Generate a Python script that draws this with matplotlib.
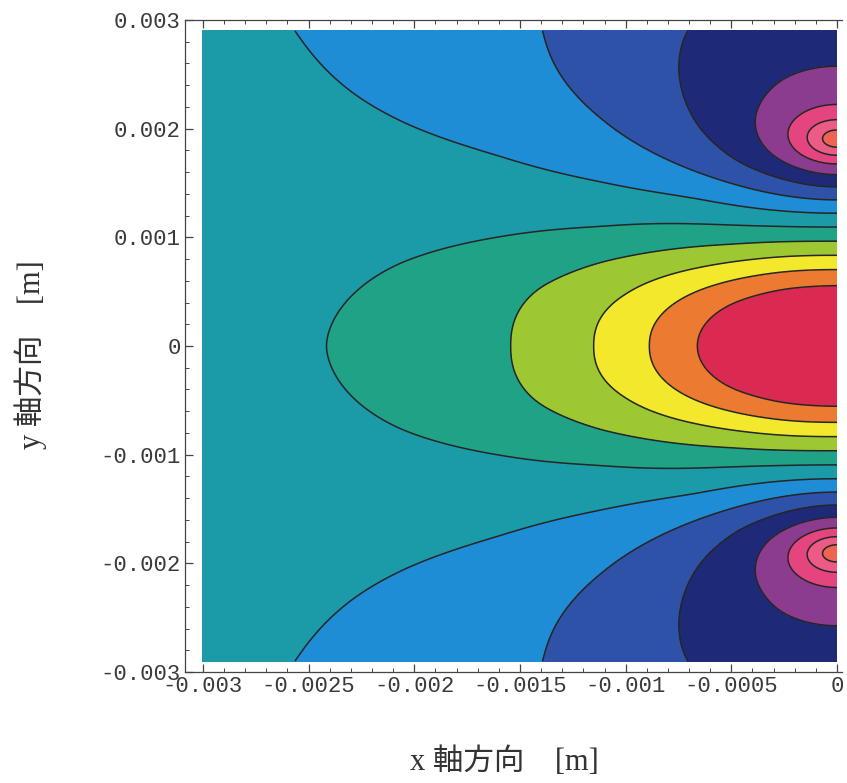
import numpy as np
import matplotlib
matplotlib.use("Agg")
import matplotlib.pyplot as plt
from matplotlib.ticker import FixedLocator, FixedFormatter, MultipleLocator

plt.rcParams['axes.unicode_minus'] = False

# contour crossings (x, y in mm; k = number of contour
# steps below the central maximum; 13 bands between min and max)
cross_x = [-0.67, -0.86, -1.12, -1.52, -2.45,
           0, 0, 0, 0, 0, 0, 0, 0, 0, 0, 0, 0, 0, 0, 0, 0,
           -0.40, -0.68, -1.11, -2.07,
           -2.54, -1.37, -0.73,
           -2.07, -1.60, -1.12,
           -1.44, -1.12, -0.49,
           -0.99, -0.65,
           -0.71, -0.33,
           -0.52, -0.255,
           -2.07, -1.59, -1.12, -0.65, -2.26,
           -0.88, -0.46,
           -0.66, -0.49,
           -0.30, -0.30,
           -0.24, -0.14, -0.066,
           -3.0, -3.0, -3.0, 0.0]
cross_y = [0, 0, 0, 0, 0,
           0.59, 0.69, 0.82, 0.96, 1.10, 1.24, 1.33, 1.45, 1.54, 1.68, 1.78, 1.84, 1.96, 2.05, 2.22, 2.58,
           2.10, 2.10, 2.10, 2.10,
           2.88, 2.88, 2.88,
           0.78, 0.99, 1.06,
           0.55, 0.80, 0.91,
           0.46, 0.71,
           0.46, 0.65,
           0.41, 0.57,
           2.05, 1.77, 1.53, 1.40, 2.28,
           1.79, 1.48,
           2.00, 1.66,
           2.47, 1.73,
           1.98, 1.91, 1.90,
           0.0, 1.5, 2.88, 0.0]
cross_k = [1, 2, 3, 4, 5,
           1, 2, 3, 4, 5, 6, 7, 8, 9, 10, 11, 12, 12, 11, 10, 9,
           9, 8, 7, 6,
           6, 7, 8,
           5, 5, 5,
           4, 4, 4,
           3, 3,
           2, 2,
           1, 1,
           6, 6, 6, 6, 6,
           7, 7,
           8, 8,
           9, 9,
           10, 11, 12,
           5.3, 5.5, 5.8, 0]

n_bands = 13
x_range = (-3.0, 0.0)     # mm, coloured area
y_range = (-2.9, 2.9)

# band colours, highest (central peak) to lowest (negative peak)
band_colors = ['#db2a52', '#ec7a30', '#f3e82c', '#9dc832', '#20a286',
               '#1b9aa8', '#1f8cd6', '#2d52a8', '#1e2a78', '#8b3c8e',
               '#e4457e', '#ec5a86', '#ee6450']

x_ticks = [-0.003, -0.0025, -0.002, -0.0015, -0.001, -0.0005, 0]
x_labels = ['-0.003', '-0.0025', '-0.002', '-0.0015', '-0.001', '-0.0005', '0']
y_ticks = [0.003, 0.002, 0.001, 0, -0.001, -0.002, -0.003]
y_labels = ['0.003', '0.002', '0.001', '0', '-0.001', '-0.002', '-0.003']

cx = np.array(cross_x)
cy = np.array(cross_y)
ck = np.array(cross_k, dtype=float)


# smooth base shape: central positive lobe and two negative side lobes
def field(p, x, y):
    ax_, ay_, qp, bx, by, qn, amp, d = p
    pos = (1 + (x / ax_) ** 2 + (y / ay_) ** 2) ** (-qp)
    neg = ((1 + (x / bx) ** 2 + ((y - d) / by) ** 2) ** (-qn)
           + (1 + (x / bx) ** 2 + ((y + d) / by) ** 2) ** (-qn))
    return pos - amp * neg


ys_line = np.linspace(1.0, 2.8, 181)


def to_steps(p, x, y):
    fmax = field(p, 0.0, 0.0)
    fmin = field(p, 0 * ys_line, ys_line).min()
    step = (fmax - fmin) / n_bands
    return (fmax - field(p, x, y)) / step


def loss(p):
    k = to_steps(p, cx, cy)
    if not np.all(np.isfinite(k)):
        return np.inf
    return np.sum((k - ck) ** 2)


p = np.array([1.0, 1.0, 1.0, 0.35, 0.5, 0.8, 1.2, 1.9])
best = loss(p)
for factors in [(0.7, 0.85, 1.15, 1.4), (0.95, 0.98, 1.02, 1.05), (0.99, 1.01)]:
    for it in range(60):
        improved = False
        for i in range(len(p)):
            for m in factors:
                q = p.copy()
                q[i] *= m
                lq = loss(q)
                if lq < best:
                    best, p, improved = lq, q, True
        if not improved:
            break

# smoothing thin-plate-spline correction of what the base shape misses,
# mirrored in x and y so the result stays symmetric
resid = ck - to_steps(p, cx, cy)
mx = np.concatenate([cx, cx, -cx, -cx])
my = np.concatenate([cy, -cy, cy, -cy])
mv = np.tile(resid, 4)
_, idx = np.unique(np.round(np.c_[mx, my], 4), axis=0, return_index=True)
mx, my, mv = mx[idx], my[idx], mv[idx]


def tps(r):
    return np.where(r > 0, r ** 2 * np.log(np.maximum(r, 1e-12)), 0.0)


n = len(mx)
K = tps(np.hypot(mx[:, None] - mx[None, :], my[:, None] - my[None, :])) + 0.25 * np.eye(n)
Pm = np.c_[np.ones(n), mx, my]
A = np.zeros((n + 3, n + 3))
A[:n, :n] = K
A[:n, n:] = Pm
A[n:, :n] = Pm.T
sol = np.linalg.solve(A, np.r_[mv, np.zeros(3)])
w, a = sol[:n], sol[n:]

gx = np.linspace(x_range[0], x_range[1], 500)
gy = np.linspace(y_range[0], y_range[1], 960)
X, Y = np.meshgrid(gx, gy)
xf, yf = X.ravel(), Y.ravel()
corr = np.empty_like(xf)
for s in range(0, len(xf), 40000):
    xs, ys = xf[s:s + 40000], yf[s:s + 40000]
    r = np.hypot(xs[:, None] - mx[None, :], ys[:, None] - my[None, :])
    corr[s:s + 40000] = tps(r) @ w + a[0] + a[1] * xs + a[2] * ys
Z = to_steps(p, X, Y) + corr.reshape(X.shape)

levels = [-100] + list(range(1, n_bands)) + [100]

fig = plt.figure(figsize=(8.47, 7.83), dpi=100)
ax = fig.add_axes([0.2184, 0.1418, 0.7757, 0.8327])

ax.contourf(X * 1e-3, Y * 1e-3, Z, levels=levels, colors=band_colors)
ax.contour(X * 1e-3, Y * 1e-3, Z, levels=levels[1:-1], colors='#262626',
           linewidths=1.1, linestyles='solid')

ax.set_xlim(-0.003085, 0.0000237)
ax.set_ylim(-0.003, 0.003)

ax.xaxis.set_major_locator(FixedLocator(x_ticks))
ax.xaxis.set_major_formatter(FixedFormatter(x_labels))
ax.yaxis.set_major_locator(FixedLocator(y_ticks))
ax.yaxis.set_major_formatter(FixedFormatter(y_labels))
ax.xaxis.set_minor_locator(MultipleLocator(0.0001))
ax.yaxis.set_minor_locator(MultipleLocator(0.0002))

ax.tick_params(which='both', direction='in', top=True, right=False, color='#444444',
               labelcolor='#3a3a3a', labelsize=16, pad=3)
ax.tick_params(which='major', length=6, width=0.9)
ax.tick_params(which='minor', length=3, width=0.7)
for lab in ax.get_xticklabels() + ax.get_yticklabels():
    lab.set_family('Liberation Mono')

for side in ['left', 'top', 'bottom']:
    ax.spines[side].set_color('#444444')
    ax.spines[side].set_linewidth(0.9)
ax.spines['right'].set_visible(False)

fig.text(0.596, 0.027, 'x 軸方向    [m]', ha='center', va='center', fontsize=22,
         color='#333333', family=['Liberation Serif', 'Noto Sans CJK JP'])
fig.text(0.036, 0.547, 'y 軸方向    [m]', ha='center', va='center', fontsize=22,
         rotation=90, color='#333333', family=['Liberation Serif', 'Noto Sans CJK JP'])

fig.savefig('out.png', dpi=100)
